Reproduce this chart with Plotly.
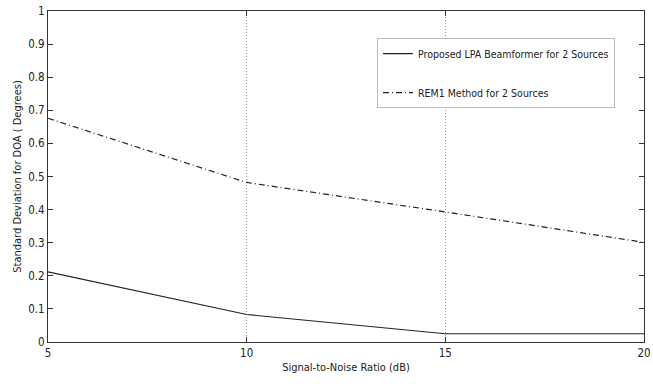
import plotly.graph_objects as go

snr = [5, 10, 15, 20]
proposed = [0.212, 0.083, 0.025, 0.025]
rem1 = [0.676, 0.482, 0.393, 0.301]
x_ticks = [5, 10, 15, 20]
y_ticks = [0, 0.1, 0.2, 0.3, 0.4, 0.5, 0.6, 0.7, 0.8, 0.9, 1]
y_tick_text = ["0", "0.1", "0.2", "0.3", "0.4", "0.5", "0.6", "0.7", "0.8", "0.9", "1"]

FONT = "DejaVu Sans Condensed, Liberation Sans, sans-serif"

fig = go.Figure()
fig.add_trace(go.Scatter(x=snr, y=proposed, mode="lines",
                         name="Proposed LPA Beamformer for 2 Sources",
                         legendgroup="a",
                         line=dict(color="#222222", width=1.2)))
fig.add_trace(go.Scatter(x=snr, y=rem1, mode="lines",
                         name="REM1 Method for 2 Sources",
                         legendgroup="b",
                         line=dict(color="#222222", width=1.2, dash="6px,3px,1px,3px")))

axis_common = dict(showline=True, linecolor="#333333", linewidth=1, mirror="ticks",
                   ticks="inside", ticklen=5, tickcolor="#333333", automargin=False,
                   ticklabeloverflow="allow",
                   zeroline=False, tickfont=dict(family=FONT, size=11.5, color="#222222"))

fig.update_xaxes(range=[5, 20], tickvals=x_ticks, ticktext=[str(v) for v in x_ticks],
                 showgrid=True, gridcolor="#999999", griddash="1px,2px", gridwidth=1,
                 title=dict(text="Signal-to-Noise Ratio (dB)", standoff=4,
                            font=dict(family=FONT, size=11, color="#222222")),
                 **axis_common)
fig.update_yaxes(range=[0, 1], tickvals=y_ticks, ticktext=y_tick_text, showgrid=False,
                 title=dict(text="Standard Deviation for DOA ( Degrees)", standoff=4,
                            font=dict(family=FONT, size=11, color="#222222")),
                 **axis_common)

fig.update_layout(
    width=653, height=384,
    margin=dict(l=48, r=9, t=11, b=42, autoexpand=False),
    paper_bgcolor="white", plot_bgcolor="white",
    showlegend=True,
    legend=dict(x=0.552, y=0.918, xanchor="left", yanchor="top",
                bgcolor="white", bordercolor="#bbbbbb", borderwidth=1,
                tracegroupgap=20,
                font=dict(family=FONT, size=10.5, color="#222222")),
)

fig.write_html("out.html", config={"displayModeBar": False},
               post_script="document.body.style.margin='0px';")
